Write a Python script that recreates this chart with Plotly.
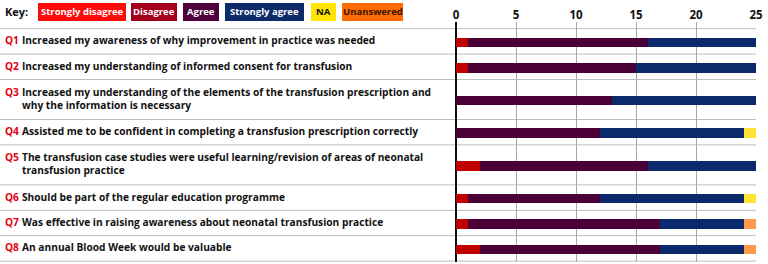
import plotly.graph_objects as go

# ---------------- data ----------------
q_ids = ["Q1", "Q2", "Q3", "Q4", "Q5", "Q6", "Q7", "Q8"]
q_texts = [
    "Increased my awareness of why improvement in practice was needed",
    "Increased my understanding of informed consent for transfusion",
    "Increased my understanding of the elements of the transfusion prescription and<br>why the information is necessary",
    "Assisted me to be confident in completing a transfusion prescription correctly",
    "The transfusion case studies were useful learning/revision of areas of neonatal<br>transfusion practice",
    "Should be part of the regular education programme",
    "Was effective in raising awareness about neonatal transfusion practice",
    "An annual Blood Week would be valuable",
]
categories = ["Strongly disagree", "Disagree", "Agree", "Strongly agree", "NA", "Unanswered"]
strongly_disagree = [0, 0, 0, 0, 0, 0, 0, 0]
disagree = [1, 1, 0, 0, 2, 1, 1, 2]
agree = [15, 14, 13, 12, 14, 11, 16, 15]
strongly_agree = [9, 10, 12, 12, 9, 12, 7, 7]
na = [0, 0, 0, 1, 0, 1, 0, 0]
unanswered = [0, 0, 0, 0, 0, 0, 1, 1]
x_ticks = [0, 5, 10, 15, 20, 25]

# ---------------- styling ----------------
W, H = 768, 264
FONT = "Open Sans"
key_colors = ["#FF0A0A", "#A6001F", "#4D0039", "#0D2B6B", "#FFE500", "#FF6A00"]
key_text_colors = ["white", "white", "white", "white", "#111111", "#3A1500"]
bar_colors = ["#FF0A0A", "#C00000", "#4A0036", "#0B2A6B", "#FFE233", "#FF9A4A"]
series = [strongly_disagree, disagree, agree, strongly_agree, na, unanswered]

# row layout derived from the number of label lines (y units = pixels)
SINGLE_ROW = 25.4
EXTRA_LINE = 14.6
LINE_H = 14.0
n_lines = [t.count("<br>") + 1 for t in q_texts]
heights = [SINGLE_ROW + EXTRA_LINE * (n - 1) for n in n_lines]
bounds = [0.0]
for h in heights:
    bounds.append(bounds[-1] + h)
centers = [(bounds[i] + bounds[i + 1]) / 2 for i in range(len(heights))]
total = bounds[-1]

plot_top_px, plot_bot_px = 22, 262
first_line_px = 28.7
y_range = [total + (plot_bot_px - (first_line_px + total)), -(first_line_px - plot_top_px)]

fig = go.Figure()
for name, vals, col in zip(categories, series, bar_colors):
    fig.add_trace(go.Bar(
        y=[c + 1 for c in centers], x=vals, orientation="h", name=name,
        marker=dict(color=col, line=dict(width=0)),
        width=9.5, showlegend=False, hoverinfo="x+name",
    ))

x0_px, x1_px = 456, 756
fig.update_layout(
    width=W, height=H, barmode="stack",
    margin=dict(l=0, r=0, t=0, b=0, pad=0),
    paper_bgcolor="white", plot_bgcolor="white",
    bargap=0,
    xaxis=dict(
        domain=[x0_px / W, x1_px / W], range=[0, 25], side="top",
        tickvals=x_ticks, ticktext=[str(v) for v in x_ticks],
        tickfont=dict(family=FONT, size=11.5, color="#111111", weight=700),
        showgrid=True, gridcolor="#A8A8A8", gridwidth=1,
        zeroline=True, zerolinecolor="#111111", zerolinewidth=2,
        ticks="",
        showline=False, fixedrange=True, automargin=False,
    ),
    yaxis=dict(
        domain=[(H - plot_bot_px) / H, (H - plot_top_px) / H], range=y_range,
        showgrid=False, zeroline=False, showticklabels=False, ticks="",
        showline=False, fixedrange=True, automargin=False,
    ),
)

# row separator lines
for b in bounds:
    fig.add_shape(type="line", xref="paper", yref="y", x0=0, x1=x1_px / W,
                  y0=b, y1=b, line=dict(color="#BDBDBD", width=1), layer="below")

# row labels
for qid, txt, c, n in zip(q_ids, q_texts, centers, n_lines):
    fig.add_annotation(xref="paper", yref="y", x=3 / W, y=c - (n - 1) * LINE_H / 2 - 1,
                       text=qid, showarrow=False, xanchor="left", yanchor="middle",
                       font=dict(family=FONT, size=10.2, color="#E3000F", weight=700))
    fig.add_annotation(xref="paper", yref="y", x=20 / W, y=c - 1,
                       text=txt, showarrow=False, xanchor="left", yanchor="middle",
                       align="left",
                       font=dict(family=FONT, size=10.2, color="#111111", weight=700))

# key
key_y = (H - 12) / H
fig.add_annotation(xref="paper", yref="paper", x=3 / W, y=key_y, text="Key:",
                   showarrow=False, xanchor="left", yanchor="middle",
                   font=dict(family=FONT, size=11, color="#111111", weight=700))
key_boxes = [(38, 126), (131, 177), (183, 219), (225, 304), (311, 336), (342, 403)]
for (a, b), name, col, tcol in zip(key_boxes, categories, key_colors, key_text_colors):
    fig.add_shape(type="rect", xref="paper", yref="paper",
                  x0=a / W, x1=b / W, y0=(H - 21) / H, y1=(H - 3) / H,
                  fillcolor=col, line=dict(width=0))
    fig.add_annotation(xref="paper", yref="paper", x=(a + b) / 2 / W, y=key_y,
                       text=name, showarrow=False, xanchor="center", yanchor="middle",
                       font=dict(family=FONT, size=9.5, color=tcol, weight=700))

fig.write_html("out.html", config={"displayModeBar": False},
               post_script="document.body.style.margin='0';document.body.style.padding='0';")
